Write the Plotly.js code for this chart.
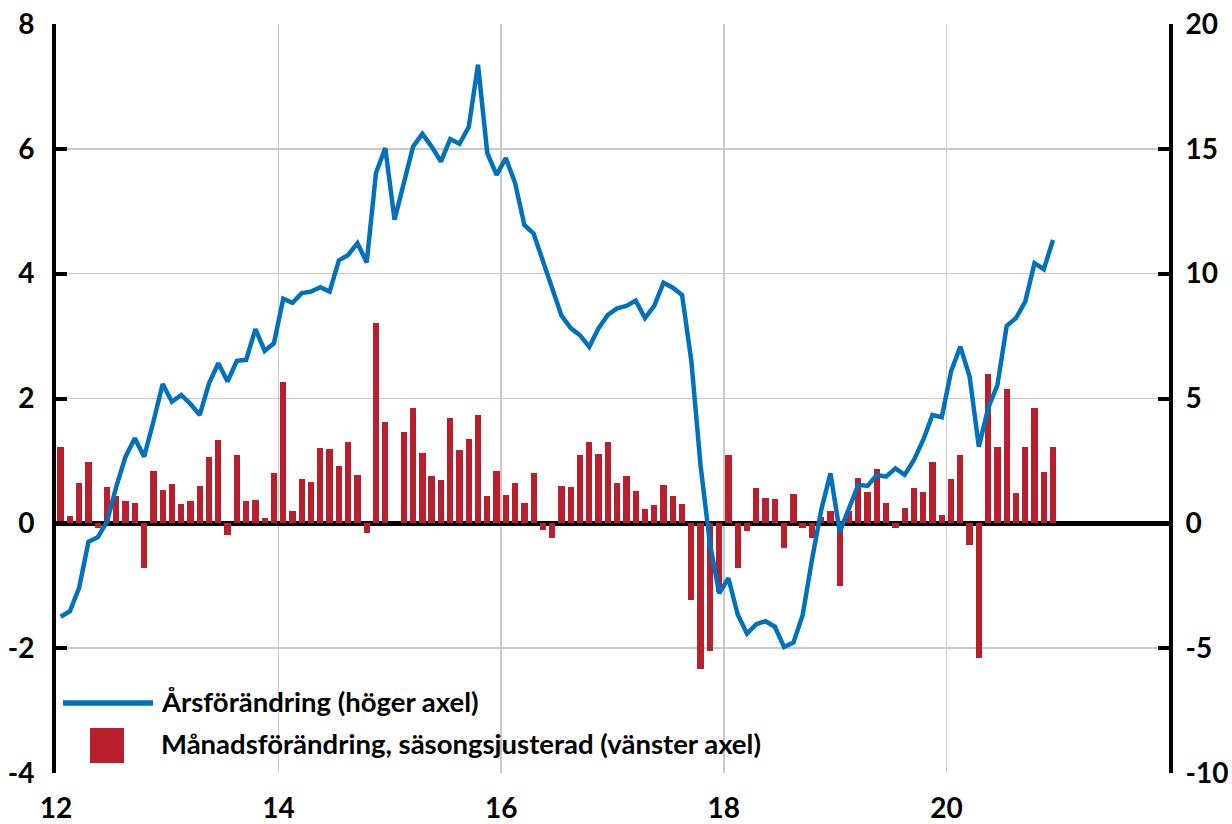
<!DOCTYPE html>
<html>
<head>
<meta charset="utf-8">
<script src="https://cdn.plot.ly/plotly-3.0.1.min.js"></script>
<style>
  html, body { margin: 0; padding: 0; background: #ffffff; }
  #chart { width: 1232px; height: 824px; }
</style>
</head>
<body>
<div id="chart"></div>
<script>
// Månadsdata jan 2012 – dec 2020
const startYear = 2012;
const monthCount = 108;

// Månadsförändring, säsongsjusterad (vänster axel), procent
const monthlyChange = [
  1.23, 0.11, 0.64, 0.99, -0.08, 0.59, 0.44, 0.36, 0.32, -0.72, 0.84, 0.53,
  0.63, 0.31, 0.35, 0.60, 1.07, 1.33, -0.19, 1.09, 0.36, 0.37, 0.08, 0.80,
  2.27, 0.20, 0.71, 0.67, 1.21, 1.19, 0.92, 1.31, 0.77, -0.16, 3.21, 1.63,
  0.00, 1.47, 1.85, 1.12, 0.76, 0.69, 1.68, 1.17, 1.35, 1.73, 0.43, 0.84,
  0.45, 0.64, 0.32, 0.80, -0.11, -0.24, 0.60, 0.59, 1.09, 1.31, 1.11, 1.31,
  0.65, 0.76, 0.52, 0.23, 0.29, 0.61, 0.43, 0.31, -1.23, -2.34, -2.05, -1.10,
  1.09, -0.72, -0.12, 0.57, 0.40, 0.39, -0.39, 0.47, -0.07, -0.24, 0.10, 0.20,
  -1.00, 0.20, 0.73, 0.51, 0.87, 0.33, -0.08, 0.25, 0.57, 0.50, 0.98, 0.14,
  0.71, 1.10, -0.34, -2.15, 2.39, 1.22, 2.16, 0.49, 1.23, 1.85, 0.83, 1.22
];

// Årsförändring (höger axel), procent
const annualChange = [
  -3.74, -3.52, -2.57, -0.74, -0.56, 0.07, 1.47, 2.67, 3.41, 2.67, 4.07, 5.58,
  4.87, 5.14, 4.78, 4.34, 5.61, 6.41, 5.68, 6.51, 6.55, 7.78, 6.91, 7.21,
  9.00, 8.83, 9.22, 9.28, 9.46, 9.28, 10.53, 10.75, 11.22, 10.45, 14.03, 15.03,
  12.16, 13.63, 15.09, 15.60, 15.09, 14.49, 15.39, 15.20, 15.87, 18.37, 14.83, 13.96,
  14.63, 13.63, 11.95, 11.60, 10.54, 9.47, 8.32, 7.82, 7.53, 7.07, 7.82, 8.35,
  8.61, 8.71, 8.92, 8.22, 8.71, 9.64, 9.44, 9.15, 6.50, 2.30, -0.80, -2.80,
  -2.20, -3.65, -4.42, -4.04, -3.92, -4.14, -4.95, -4.78, -3.68, -1.47, 0.53, 2.00,
  -0.34, 0.60, 1.54, 1.50, 1.94, 1.87, 2.20, 1.94, 2.54, 3.34, 4.34, 4.25,
  6.08, 7.08, 5.88, 3.07, 4.61, 5.54, 7.91, 8.22, 8.88, 10.42, 10.18, 11.35
];

// Axeltexter
const xTickVals = [12, 14, 16, 18, 20];
const xTickText = ["12", "14", "16", "18", "20"];
const leftTickVals = [-4, -2, 0, 2, 4, 6, 8];
const leftTickText = ["-4", "-2", "0", "2", "4", "6", "8"];
const rightTickVals = [-10, -5, 0, 5, 10, 15, 20];
const rightTickText = ["-10", "-5", "0", "5", "10", "15", "20"];
const seriesNames = ["Årsförändring (höger axel)", "Månadsförändring, säsongsjusterad (vänster axel)"];

// x-positioner: år (tvåsiffrigt) + mitten av månaden
const xMonths = [];
for (let i = 0; i < monthCount; i++) {
  xMonths.push((startYear - 2000) + (i + 0.5) / 12);
}

const RED = '#BA1F2E';
const BLUE = '#0071BA';
const FONT = 'Lato, "Open Sans", "DejaVu Sans", sans-serif';

const barTrace = {
  type: 'bar',
  name: seriesNames[1],
  x: xMonths,
  y: monthlyChange,
  width: 0.68 / 12,
  marker: { color: RED, line: { width: 0 } },
  yaxis: 'y',
  showlegend: false,
  hoverinfo: 'x+y'
};

const lineTrace = {
  type: 'scatter',
  mode: 'lines',
  name: seriesNames[0],
  x: xMonths,
  y: annualChange,
  line: { color: BLUE, width: 4.5 },
  yaxis: 'y2',
  showlegend: false
};

// Manuell förklaring (legend) i pappers-koordinater
const plotL = 56, plotR = 1169, plotT = 24, plotB = 773;
const px2x = px => (px - plotL) / (plotR - plotL);
const py2y = py => (plotB - py) / (plotB - plotT);

const tickFont = { family: FONT, size: 28, color: '#000', weight: 'bold' };

const layout = {
  width: 1232,
  height: 824,
  margin: { l: plotL, r: 1232 - plotR, t: plotT, b: 824 - plotB, pad: 0 },
  paper_bgcolor: '#ffffff',
  plot_bgcolor: '#ffffff',
  font: { family: FONT, size: 24, color: '#000000', weight: 'bold' },
  showlegend: false,
  bargap: 0,
  xaxis: {
    range: [12, 22],
    tickmode: 'array',
    tickvals: xTickVals,
    ticktext: xTickText,
    ticks: '',
    showline: false,
    showgrid: true,
    gridcolor: '#c9c9c9',
    gridwidth: 1.5,
    zeroline: false,
    ticklabelstandoff: 16,
    tickfont: tickFont,
    fixedrange: true
  },
  yaxis: {
    range: [-4, 8],
    tickmode: 'array',
    tickvals: leftTickVals,
    ticktext: leftTickText,
    ticks: 'inside',
    ticklen: 11,
    tickwidth: 4,
    tickcolor: '#000',
    showline: true,
    linecolor: '#000',
    linewidth: 4,
    showgrid: true,
    gridcolor: '#c9c9c9',
    gridwidth: 1.5,
    zeroline: true,
    zerolinecolor: '#000',
    zerolinewidth: 4.5,
    ticklabelstandoff: 12,
    tickfont: tickFont,
    fixedrange: true
  },
  yaxis2: {
    range: [-10, 20],
    overlaying: 'y',
    side: 'right',
    tickmode: 'array',
    tickvals: rightTickVals,
    ticktext: rightTickText,
    ticks: 'inside',
    ticklen: 11,
    tickwidth: 4,
    tickcolor: '#000',
    showline: true,
    linecolor: '#000',
    linewidth: 4,
    showgrid: false,
    zeroline: false,
    ticklabelstandoff: 7,
    tickfont: tickFont,
    fixedrange: true
  },
  shapes: [
    { type: 'line', xref: 'paper', yref: 'paper',
      x0: px2x(63), x1: px2x(153), y0: py2y(703), y1: py2y(703),
      line: { color: BLUE, width: 5.5 } },
    { type: 'rect', xref: 'paper', yref: 'paper',
      x0: px2x(90), x1: px2x(124), y0: py2y(763), y1: py2y(728),
      fillcolor: RED, line: { width: 0 } }
  ],
  annotations: [
    { xref: 'paper', yref: 'paper', x: px2x(159), y: py2y(701), xanchor: 'left', yanchor: 'middle',
      text: seriesNames[0], showarrow: false,
      font: { family: FONT, size: 27.5, color: '#000', weight: 'bold' } },
    { xref: 'paper', yref: 'paper', x: px2x(159), y: py2y(743), xanchor: 'left', yanchor: 'middle',
      text: seriesNames[1], showarrow: false,
      font: { family: FONT, size: 27.5, color: '#000', weight: 'bold' } }
  ]
};

Plotly.newPlot('chart', [barTrace, lineTrace], layout, { staticPlot: true, displayModeBar: false });
</script>
</body>
</html>
